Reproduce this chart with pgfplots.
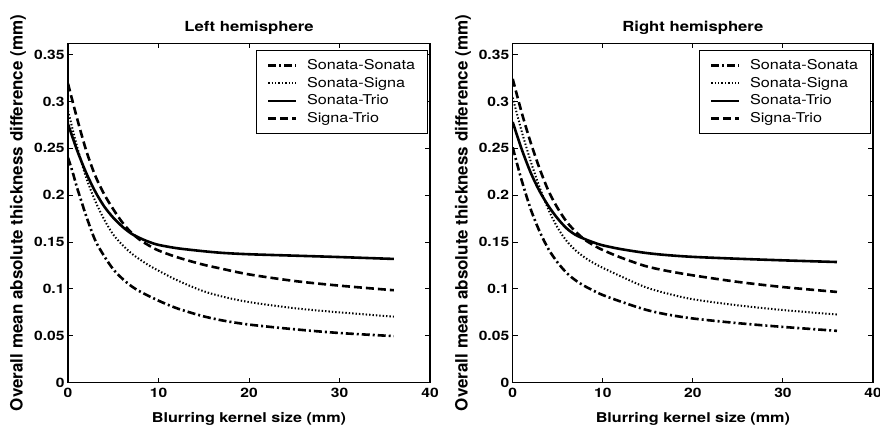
\documentclass[border=0pt]{standalone}
\usepackage{fontspec}
\setmainfont{TeX Gyre Heros}[FakeStretch=1.2]
\newfontfamily\plainfont{TeX Gyre Heros}
\usepackage{pgfplots}
\pgfplotsset{compat=1.18}
\pgfplotsset{
 myax/.style={
  scale only axis, height=339.4pt, xmin=0, xmax=40, ymin=0, ymax=0.362,
  xtick={0,10,20,30,40}, xticklabels={0,10,20,30,40},
  ytick={0,0.05,0.1,0.15,0.2,0.25,0.3,0.35},
  yticklabels={0,0.05,0.1,0.15,0.2,0.25,0.3,0.35},
  tick pos=both, tick align=inside, major tick length=5pt,
  axis line style={line width=1.2pt},
  every tick/.style={line width=1pt,black},
  tick label style={font=\fontsize{13}{13}\selectfont\bfseries},
  xticklabel style={yshift=-2pt},
  title style={at={(axis description cs:0.5,1.017)}, anchor=base, font=\fontsize{13.9}{13.9}\selectfont\bfseries},
  xlabel={Blurring kernel size (mm)},
  ylabel={Overall mean absolute thickness difference (mm)},
  xlabel style={at={(axis description cs:0.5,-0.1187)}, anchor=base, font=\fontsize{13.5}{13.5}\selectfont\bfseries},
  ylabel style={at={(axis description cs:-0.138,0.5)}, anchor=center, font=\plainfont\fontsize{17}{17}\selectfont\bfseries},
  legend style={at={(0.9945,0.979)}, anchor=north east, draw=black, line width=0.8pt,
    font=\fontsize{13.5}{13.5}\selectfont, inner xsep=11pt, inner ysep=6pt, row sep=0.2pt, column sep=8pt,
    nodes={inner sep=1.5pt, text height=11pt, text depth=3.5pt}},
  legend cell align=left,
  legend image code/.code={\draw[##1] (0pt,0pt) -- (28pt,0pt);},
  ss/.style={black, line width=2.6pt, dash pattern=on 8pt off 3pt on 2pt off 3pt, smooth},
  ssi/.style={black, line width=2pt, dash pattern=on 1.4pt off 2pt, smooth},
  st/.style={black, line width=2.6pt, smooth},
  str/.style={black, line width=2.6pt, dash pattern=on 8pt off 4pt, smooth},
 }
}
\begin{document}
\begin{tikzpicture}
\path[use as bounding box] (0,0) rectangle (880pt,427pt);
\begin{axis}[myax, at={(68pt,44.3pt)}, anchor=south west, width=362pt, title={Left hemisphere}]
\addplot[ss] coordinates {(0,0.240)(0.5,0.225)(1,0.208)(1.5,0.193)(2,0.178)(3,0.152)(4,0.135)(5,0.121)(6,0.111)(7,0.103)(8,0.097)(10,0.0875)(12,0.0795)(14.7,0.0715)(17,0.0665)(20,0.062)(25,0.057)(30,0.053)(36,0.0497)};
\addlegendentry{Sonata-Sonata}
\addplot[ssi] coordinates {(0,0.290)(1,0.252)(2,0.219)(3,0.194)(4,0.174)(5,0.158)(6,0.147)(7,0.138)(8,0.131)(9,0.1248)(10,0.1195)(12,0.1095)(14.7,0.0985)(17,0.092)(20,0.086)(25,0.0795)(30,0.075)(36,0.0705)};
\addlegendentry{Sonata-Signa}
\addplot[st] coordinates {(0,0.276)(1,0.248)(2,0.224)(3,0.204)(4,0.188)(5,0.176)(6,0.1665)(7,0.159)(8,0.154)(9,0.150)(10,0.147)(12,0.1435)(14.7,0.1405)(17,0.1385)(20,0.137)(25,0.1355)(30,0.134)(36,0.132)};
\addlegendentry{Sonata-Trio}
\addplot[str] coordinates {(0,0.319)(1,0.282)(2,0.248)(3,0.221)(4,0.201)(5,0.185)(6,0.171)(7,0.160)(8,0.152)(9,0.146)(10,0.141)(12,0.134)(14.7,0.1265)(17,0.1215)(20,0.1155)(25,0.1085)(30,0.1035)(36,0.0986)};
\addlegendentry{Signa-Trio}
\end{axis}
\begin{axis}[myax, at={(512.7pt,44.3pt)}, anchor=south west, width=360.3pt, title={Right hemisphere}]
\addplot[ss] coordinates {(0,0.251)(0.5,0.233)(1,0.2157)(2,0.185)(3,0.161)(4,0.142)(5,0.128)(6,0.117)(7,0.109)(8,0.103)(9,0.098)(10,0.0935)(12,0.0865)(14.7,0.078)(17,0.073)(20,0.0685)(25,0.0635)(30,0.0595)(36,0.0553)};
\addlegendentry{Sonata-Sonata}
\addplot[ssi] coordinates {(0,0.304)(1,0.268)(2,0.236)(3,0.208)(4,0.184)(5,0.165)(6,0.151)(7,0.141)(8,0.1335)(9,0.1275)(10,0.1225)(12,0.1135)(14.7,0.102)(17,0.0955)(20,0.089)(25,0.0825)(30,0.0775)(36,0.0727)};
\addlegendentry{Sonata-Signa}
\addplot[st] coordinates {(0,0.278)(1,0.249)(2,0.224)(3,0.204)(4,0.188)(5,0.175)(6,0.1645)(7,0.1575)(8,0.1532)(9,0.1495)(10,0.1465)(12,0.1425)(14.7,0.1385)(17,0.1362)(20,0.1342)(25,0.1322)(30,0.1305)(36,0.1287)};
\addlegendentry{Sonata-Trio}
\addplot[str] coordinates {(0,0.324)(1,0.288)(2,0.256)(3,0.228)(4,0.204)(5,0.186)(6,0.1715)(7,0.161)(8,0.1525)(9,0.1465)(10,0.1415)(12,0.1335)(14.7,0.1245)(17,0.1195)(20,0.1145)(25,0.1075)(30,0.102)(36,0.0968)};
\addlegendentry{Signa-Trio}
\end{axis}
\end{tikzpicture}
\end{document}
